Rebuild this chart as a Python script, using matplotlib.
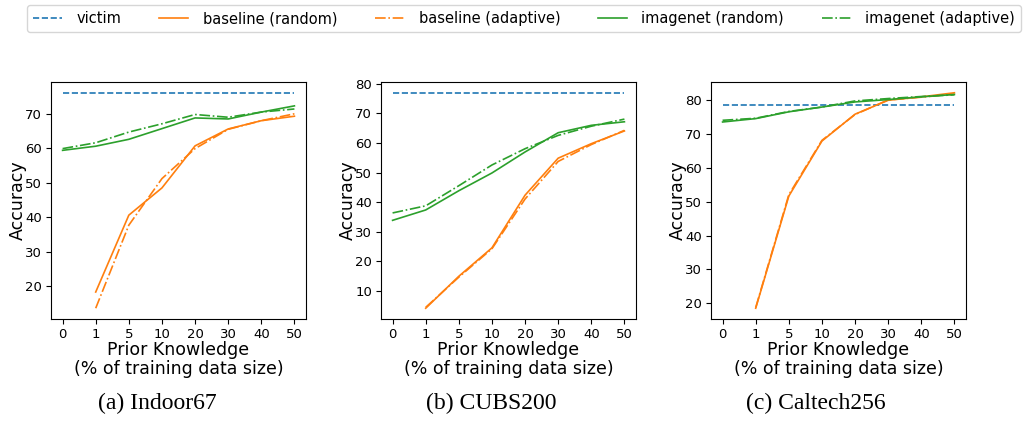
#!/usr/bin/env python3
"""
Accuracy vs prior knowledge for three datasets (victim / baseline / imagenet).
"""

import matplotlib

matplotlib.use("Agg")

import matplotlib.pyplot as plt
from matplotlib.ticker import MultipleLocator


X_LABELS = ["0", "1", "5", "10", "20", "30", "40", "50"]
X_POS = list(range(len(X_LABELS)))

# Indoor67
INDOOR_VICTIM = 76.1
INDOOR_BASE_RAND = [18.3, 40.6, 48.5, 60.7, 65.6, 68.0, 69.3]
INDOOR_BASE_ADAPT = [13.6, 37.7, 51.2, 59.9, 65.5, 68.0, 70.0]
INDOOR_IMG_RAND = [59.4, 60.6, 62.6, 65.7, 68.8, 68.5, 70.5, 72.3]
INDOOR_IMG_ADAPT = [59.9, 61.6, 64.7, 67.1, 69.8, 69.0, 70.5, 71.4]

# CUBS200
CUBS_VICTIM = 77.0
CUBS_BASE_RAND = [4.2, 15.0, 24.6, 42.4, 54.9, 59.8, 64.1]
CUBS_BASE_ADAPT = [4.5, 14.7, 24.3, 41.1, 53.8, 59.5, 64.3]
CUBS_IMG_RAND = [33.9, 37.4, 43.9, 49.9, 57.0, 63.5, 66.0, 67.2]
CUBS_IMG_ADAPT = [36.4, 38.8, 45.6, 52.6, 58.1, 62.6, 65.7, 68.1]

# Caltech256
CALTECH_VICTIM = 78.5
CALTECH_BASE_RAND = [18.6, 51.6, 67.8, 75.7, 79.8, 80.8, 82.0]
CALTECH_BASE_ADAPT = [18.8, 52.0, 68.0, 75.6, 79.9, 80.7, 81.6]
CALTECH_IMG_RAND = [73.4, 74.4, 76.4, 77.8, 79.3, 80.0, 80.8, 81.5]
CALTECH_IMG_ADAPT = [73.9, 74.5, 76.5, 77.8, 79.6, 80.3, 80.9, 81.4]

CAPTIONS = ["(a) Indoor67", "(b) CUBS200", "(c) Caltech256"]

PANELS = [
    (INDOOR_VICTIM, INDOOR_BASE_RAND, INDOOR_BASE_ADAPT, INDOOR_IMG_RAND, INDOOR_IMG_ADAPT),
    (CUBS_VICTIM, CUBS_BASE_RAND, CUBS_BASE_ADAPT, CUBS_IMG_RAND, CUBS_IMG_ADAPT),
    (CALTECH_VICTIM, CALTECH_BASE_RAND, CALTECH_BASE_ADAPT, CALTECH_IMG_RAND, CALTECH_IMG_ADAPT),
]

LEFTS = [51, 381, 711]
CAPTION_X = [157, 491, 816]


def main():
    fig = plt.figure(figsize=(10.26, 4.25), dpi=100)
    lw = 1.2

    handles = None
    for i, (victim, b_rand, b_adapt, i_rand, i_adapt) in enumerate(PANELS):
        ax = fig.add_axes([LEFTS[i] / 1026, 1 - 319 / 425, 255 / 1026, 237 / 425])
        h1, = ax.plot(X_POS, [victim] * len(X_POS), "--", color="tab:blue", lw=lw, label="victim")
        h2, = ax.plot(X_POS[1:], b_rand, "-", color="tab:orange", lw=lw, label="baseline (random)")
        h3, = ax.plot(X_POS[1:], b_adapt, "-.", color="tab:orange", lw=lw, label="baseline (adaptive)")
        h4, = ax.plot(X_POS, i_rand, "-", color="tab:green", lw=lw, label="imagenet (random)")
        h5, = ax.plot(X_POS, i_adapt, "-.", color="tab:green", lw=lw, label="imagenet (adaptive)")
        handles = [h1, h2, h3, h4, h5]

        ax.set_xticks(X_POS)
        ax.set_xticklabels(X_LABELS)
        ax.yaxis.set_major_locator(MultipleLocator(10))
        ax.tick_params(labelsize=9.5, pad=3)
        ax.set_ylabel("Accuracy", fontsize=12.5, labelpad=-1)
        ax.set_xlabel("Prior Knowledge\n(% of training data size)", fontsize=12.5,
                      labelpad=0, linespacing=1.1)

        fig.text(CAPTION_X[i] / 1026, 1 - 403 / 425, CAPTIONS[i], ha="center", va="center",
                 fontsize=17, family="Liberation Serif")

    fig.legend(
        handles=handles,
        loc="lower left",
        bbox_to_anchor=(27 / 1026, 1 - 32 / 425, 994 / 1026, 27 / 425),
        mode="expand",
        ncol=5,
        fontsize=10.5,
        frameon=True,
        borderaxespad=0,
        handletextpad=1.0,
    )

    fig.savefig("out.png", dpi=100, facecolor="white")
    plt.close(fig)


if __name__ == "__main__":
    main()
